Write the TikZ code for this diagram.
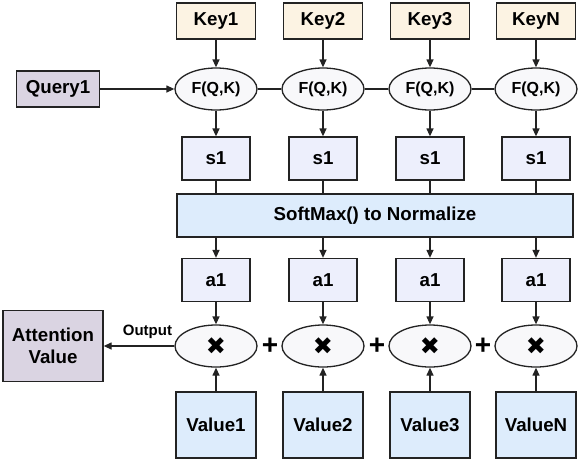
\documentclass[tikz,border=0pt]{standalone}
\usepackage{fontspec}
\setmainfont{Liberation Sans}
\newfontfamily\symfont{DejaVu Sans}
\usetikzlibrary{shapes.geometric,arrows.meta}
\definecolor{keyfill}{RGB}{252,243,227}
\definecolor{queryfill}{RGB}{218,212,226}
\definecolor{scorefill}{RGB}{237,239,252}
\definecolor{bluefill}{RGB}{221,236,252}
\definecolor{opfill}{RGB}{248,248,250}
\definecolor{linegray}{RGB}{35,35,35}
\tikzset{
  base/.style={draw=linegray,line width=1.3pt,inner sep=0pt,
    font=\bfseries\fontsize{18.7}{22}\selectfont},
  keybox/.style={base,fill=keyfill,minimum width=79,minimum height=36},
  querybox/.style={base,fill=queryfill,minimum width=83,minimum height=36},
  scorebox/.style={base,fill=scorefill,minimum width=68,minimum height=43},
  softbox/.style={base,fill=bluefill,minimum width=396,minimum height=43},
  valuebox/.style={base,fill=bluefill,minimum width=80,minimum height=66},
  fnode/.style={base,ellipse,fill=opfill,minimum width=82,minimum height=42,
    font=\bfseries\fontsize{16}{18}\selectfont},
  mulnode/.style={fnode,font=\symfont\fontsize{24}{24}\selectfont},
  plus/.style={font=\bfseries\fontsize{28}{28}\selectfont,inner sep=0pt},
  arr/.style={draw=linegray,line width=1.3pt,-{Triangle[length=8pt,width=7pt]}},
  plain/.style={draw=linegray,line width=1.3pt}
}
\begin{document}
\begin{tikzpicture}[x=1pt,y=-1pt]
  \useasboundingbox (0,0) rectangle (581,461);
  % keys and query
  \node[keybox] (k1) at (216,21) {Key1};
  \node[keybox] (k2) at (323,21) {Key2};
  \node[keybox] (k3) at (430,21) {Key3};
  \node[keybox] (k4) at (536,21) {KeyN};
  \node[querybox] (q1) at (58,89) {Query1};
  % score functions
  \node[fnode] (f1) at (216,89) {F(Q,K)};
  \node[fnode] (f2) at (323,89) {F(Q,K)};
  \node[fnode] (f3) at (430,89) {F(Q,K)};
  \node[fnode] (f4) at (536,89) {F(Q,K)};
  \node[scorebox] (s1) at (216,158.5) {s1};
  \node[scorebox] (s2) at (323,158.5) {s1};
  \node[scorebox] (s3) at (430,158.5) {s1};
  \node[scorebox] (s4) at (536,158.5) {s1};
  \node[softbox] (soft) at (375,215.5) {SoftMax() to Normalize};
  % weights
  \node[scorebox] (a1) at (216,280) {a1};
  \node[scorebox] (a2) at (323,280) {a1};
  \node[scorebox] (a3) at (430,280) {a1};
  \node[scorebox] (a4) at (536,280) {a1};
  \node[mulnode] (m1) at (216,346) {✖};
  \node[mulnode] (m2) at (323,346) {✖};
  \node[mulnode] (m3) at (430,346) {✖};
  \node[mulnode] (m4) at (536,346) {✖};
  \node[plus] (p1) at (270,346) {+};
  \node[plus] (p2) at (377,346) {+};
  \node[plus] (p3) at (483,346) {+};
  \node[valuebox] (v1) at (216,425) {Value1};
  \node[valuebox] (v2) at (323,425) {Value2};
  \node[valuebox] (v3) at (430,425) {Value3};
  \node[valuebox] (v4) at (536,425) {ValueN};
  \node[querybox,minimum width=100,minimum height=71,align=center] (att) at (53,346) {Attention\\Value};
  % connectors
  \draw[arr] (k1) -- (f1);
  \draw[arr] (k2) -- (f2);
  \draw[arr] (k3) -- (f3);
  \draw[arr] (k4) -- (f4);
  \draw[arr] (q1) -- (f1);
  \draw[plain] (f1) -- (f2);
  \draw[plain] (f2) -- (f3);
  \draw[plain] (f3) -- (f4);
  \draw[arr] (f1) -- (s1);
  \draw[arr] (f2) -- (s2);
  \draw[arr] (f3) -- (s3);
  \draw[arr] (f4) -- (s4);
  \draw[plain] (s1) -- (s1 |- soft.north);
  \draw[plain] (s2) -- (s2 |- soft.north);
  \draw[plain] (s3) -- (s3 |- soft.north);
  \draw[plain] (s4) -- (s4 |- soft.north);
  \draw[arr] (a1 |- soft.south) -- (a1);
  \draw[arr] (a2 |- soft.south) -- (a2);
  \draw[arr] (a3 |- soft.south) -- (a3);
  \draw[arr] (a4 |- soft.south) -- (a4);
  \draw[arr] (a1) -- (m1);
  \draw[arr] (a2) -- (m2);
  \draw[arr] (a3) -- (m3);
  \draw[arr] (a4) -- (m4);
  \draw[arr] (v1) -- (m1);
  \draw[arr] (v2) -- (m2);
  \draw[arr] (v3) -- (m3);
  \draw[arr] (v4) -- (m4);
  \draw[arr] (m1) -- node[pos=0.38,above=3pt,font=\bfseries\fontsize{15}{17}\selectfont] (out) {Output} (att);
\end{tikzpicture}
\end{document}
